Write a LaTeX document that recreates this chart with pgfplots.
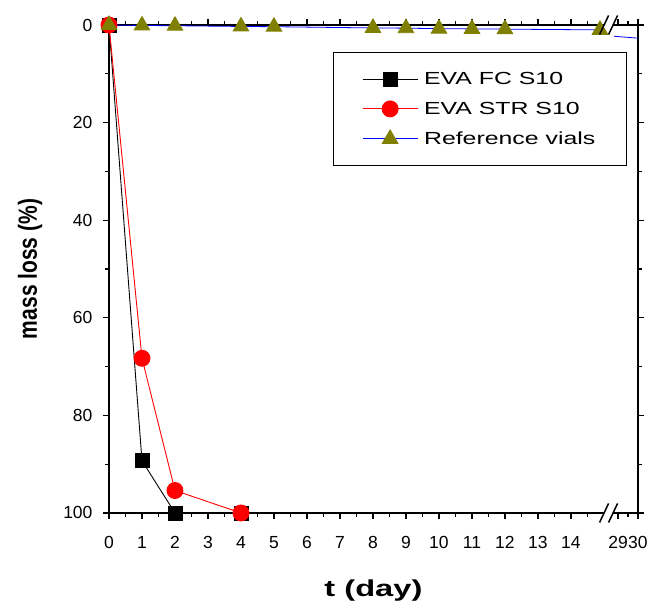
\documentclass[border=0pt]{standalone}
\usepackage{pgfplots}
\pgfplotsset{compat=1.18}
\usetikzlibrary{calc}
\usepackage{fontspec}
\setmainfont{Liberation Sans}
\definecolor{olivetri}{RGB}{128,128,0}
\begin{document}
\begin{tikzpicture}
\begin{axis}[
  scale only axis, width=529pt, height=488pt,
  xmin=0, xmax=16.03, ymin=0, ymax=100, y dir=reverse,
  xtick={0,1,2,3,4,5,6,7,8,9,10,11,12,13,14,15.43,16.03},
  xticklabels={0,1,2,3,4,5,6,7,8,9,10,11,12,13,14,29,30},
  minor xtick={0.5,1.5,2.5,3.5,4.5,5.5,6.5,7.5,8.5,9.5,10.5,11.5,12.5,13.5,14.5,15.73},
  ytick={0,20,40,60,80,100}, minor ytick={10,30,50,70,90},
  tick align=outside, major tick length=6pt, minor tick length=4pt,
  axis line style={line width=1.6pt},
  every tick/.style={line width=1.3pt, black},
  ticklabel style={font=\fontsize{17.5}{17.5}\selectfont},
  xticklabel style={yshift=-14pt},
  yticklabel style={xshift=-7pt},
  /pgf/number format/assume math mode=true,
  xlabel={\scalebox{1.42}[1]{t (day)}}, ylabel={\scalebox{1}[1.25]{mass loss (\%)}},
  xlabel style={font=\fontsize{23}{23}\selectfont\bfseries, yshift=-24pt},
  ylabel style={font=\fontsize{21}{21}\selectfont\bfseries, yshift=14pt},
  legend cell align=left,
  legend style={at={(0.979,0.945)}, anchor=north east, draw=black, line width=1pt,
    font=\fontsize{17.5}{17.5}\selectfont, row sep=12pt, inner xsep=29pt, inner ysep=18pt},
  legend image code/.code={\draw[mark repeat=2,mark phase=2] plot coordinates {(0pt,0pt) (27.5pt,0pt) (55pt,0pt)};},
]
\addplot[black, line width=0.9pt, mark=square*, mark size=7pt, mark options={solid, fill=black}]
  coordinates {(0,0) (1,89.3) (2,100) (4,100)};
\addlegendentry{\hspace{4pt}\scalebox{1.42}[1]{EVA FC S10}}
\addplot[red, line width=0.9pt, mark=*, mark size=8pt, mark options={solid, fill=red, draw=red}]
  coordinates {(0,0) (1,68.3) (2,95.4) (4,100)};
\addlegendentry{\hspace{4pt}\scalebox{1.42}[1]{EVA STR S10}}
\addplot[blue, line width=0.8pt, mark=triangle*, mark size=9pt, mark options={solid, fill=olivetri, draw=olivetri}]
  coordinates {(0,0) (1,0.1) (2,0.15) (4,0.3) (5,0.35) (8,0.6) (9,0.65) (10,0.75) (11,0.8) (12,0.85) (14.88,1.0)};
\addlegendentry{\hspace{4pt}\scalebox{1.42}[1]{Reference vials}}
\addplot[blue, line width=0.8pt, forget plot] coordinates {(15.3,2.3) (16.03,2.7)};
\coordinate (bb) at (axis cs:15.14,100);
\coordinate (bt) at (axis cs:15.14,0);
\end{axis}
\foreach \c in {bb,bt}{
  \fill[white] ($(\c)+(-4.5pt,-3pt)$) rectangle ($(\c)+(4.5pt,3pt)$);
  \draw[line width=1.5pt] ($(\c)+(-9pt,-9.5pt)$) -- ($(\c)+(0pt,9.5pt)$);
  \draw[line width=1.5pt] ($(\c)+(0pt,-9.5pt)$) -- ($(\c)+(9pt,9.5pt)$);
}
\path ($(current axis.south west)+(-109pt,-91pt)$) rectangle ($(current axis.north east)+(13pt,25pt)$);
\end{tikzpicture}
\end{document}
